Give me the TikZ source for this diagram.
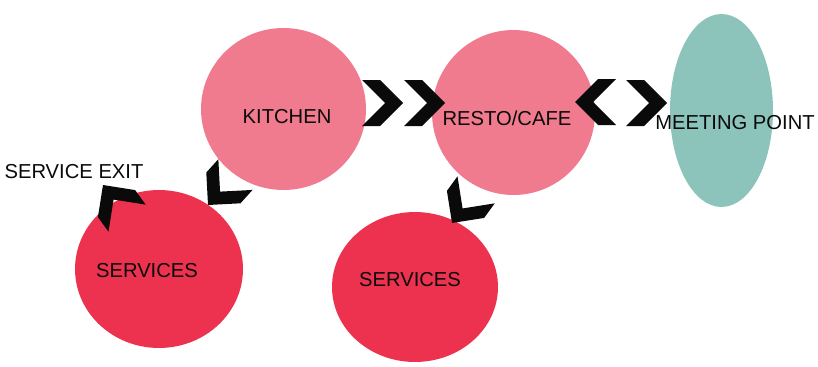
\documentclass[tikz,border=0pt]{standalone}
\usepackage{fontspec}
\setmainfont{Liberation Sans}
\usepackage{xcolor}
\definecolor{roompink}{RGB}{240,122,142}
\definecolor{servicered}{RGB}{237,50,80}
\definecolor{meetteal}{RGB}{140,196,188}
\definecolor{inkblack}{RGB}{10,10,10}
\usepackage{tikz}
\usetikzlibrary{shapes.geometric}
\tikzset{
    room/.style={ellipse, inner sep=0pt, fill=roompink},
    service/.style={room, fill=servicered},
    meet/.style={room, fill=meetteal},
    tag/.style={inner sep=0pt, text depth=0pt, text=inkblack, font=\fontsize{11.5}{13}\selectfont},
    % flow arrow, outer tip at the origin, pointing along +x
    chev/.pic={
        \fill[inkblack] (0,0) -- (-23,23) -- (-41,23) -- (-18,0) -- (-41,-23) -- (-23,-23) -- cycle;
    }
}

\begin{document}
\begin{tikzpicture}[x=0.02cm, y=0.02cm]
    \useasboundingbox (0,0) rectangle (818,366);

    % rooms
    \node[room, minimum width=3.30cm, minimum height=3.24cm] (kitchen) at (283.5,257) {};
    \node[room, minimum width=3.26cm, minimum height=3.30cm] (resto) at (513.5,253.5) {};
    \node[meet, minimum width=2.06cm, minimum height=3.86cm] (meeting) at (721.5,255.5) {};
    \node[service, minimum width=3.36cm, minimum height=3.16cm] (services-a) at (159,97) {};
    \node[service, minimum width=3.32cm, minimum height=3.00cm] (services-b) at (415,79) {};

    % flow between the rooms
    \pic at (403,263) {chev};
    \pic at (445,263) {chev};
    \pic[rotate=180] at (575,264) {chev};
    \pic at (667,263) {chev};
    \pic[rotate=228] at (208,161) {chev};
    \pic[rotate=234] at (452,143) {chev};
    \pic[rotate=126] at (103,181) {chev};

    % names
    \node[tag] (kitchen-tag) at (287,250) {KITCHEN};
    \node[tag] (resto-tag) at (507,248) {RESTO/CAFE};
    \node[tag] (meeting-tag) at (735,244) {MEETING POINT};
    \node[tag] (exit-tag) at (74,195) {SERVICE EXIT};
    \node[tag] (services-a-tag) at (147,96) {SERVICES};
    \node[tag] (services-b-tag) at (410,87) {SERVICES};
\end{tikzpicture}
\end{document}
